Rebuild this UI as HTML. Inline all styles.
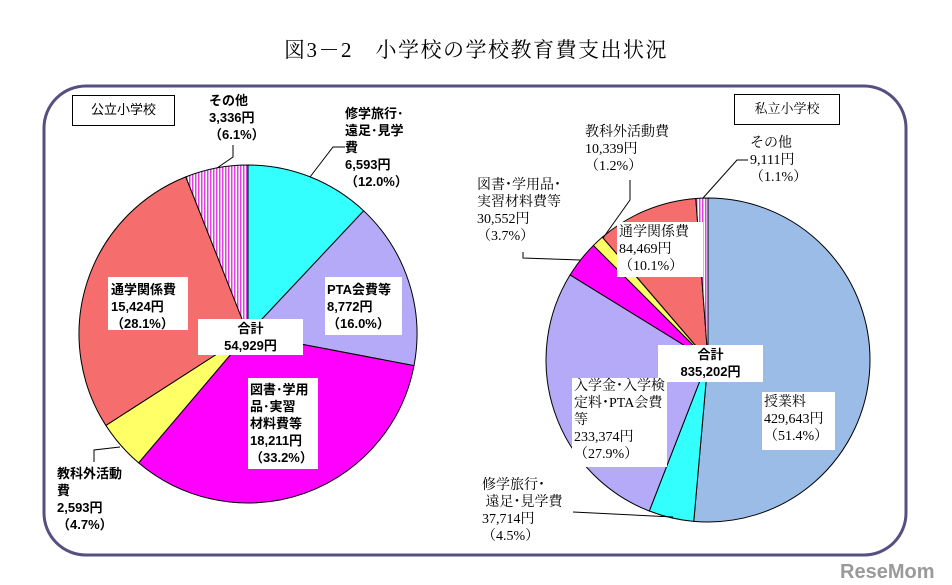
<!DOCTYPE html>
<html><head><meta charset="utf-8"><style>
body{margin:0;width:952px;height:585px;background:#fff;overflow:hidden;position:relative;font-family:"Liberation Sans","Noto Sans CJK JP",sans-serif;}
.t{position:absolute;font-size:13px;line-height:17px;color:#000;white-space:nowrap}
.g{font-weight:bold}
.s{font-family:"Liberation Serif","Noto Serif CJK SC",serif;font-size:14px}
.b{position:absolute;background:#fff}
.bx{position:absolute;border:1px solid #000;background:#fff;font-size:13px;text-align:center;line-height:28px}
</style></head><body>
<svg id="sv" width="952" height="585" style="position:absolute;left:0;top:0">
<defs><pattern id="st" width="3" height="4" patternUnits="userSpaceOnUse"><rect width="3" height="4" fill="#fff"/><rect width="1.5" height="4" fill="#e040e0"/></pattern></defs>
<rect x="44" y="86" width="862" height="469" rx="42" ry="42" fill="none" stroke="#55507f" stroke-width="3"/>
<g id="pies"></g>
<g stroke="#000" stroke-width="1" fill="none">
<polyline points="233,145 233,157 217,168"/>
<polyline points="345,147 333,147 310,177"/>
<polyline points="94,462 94,450 120,447"/>
<polyline points="630,180 630,200 603,238"/>
<polyline points="748,160 737,160 703,198"/>
<polyline points="523,252 523,258 580,260"/>
<polyline points="573,512 673,517"/>
</g>
</svg>
<div class="t" style="left:0;width:952px;top:37px;text-align:center;font-size:21px;line-height:26px;letter-spacing:1.5px;font-family:'Liberation Serif','Noto Serif CJK SC',serif">図3－2　小学校の学校教育費支出状況</div>
<div class="bx" style="left:72px;top:95px;width:101px;height:29px">公立小学校</div>
<div class="bx" style="left:734px;top:94px;width:104px;height:29px;font-family:'Liberation Serif','Noto Serif CJK SC',serif">私立小学校</div>

<div class="t g" style="left:209px;top:92px">その他<br>3,336円<br>（6.1%）</div>
<div class="t g" style="left:345px;top:105px">修学旅行･<br>遠足･見学<br>費<br>6,593円<br>（12.0%）</div>
<div class="b" style="left:325px;top:277px;width:77px;height:58px"></div>
<div class="t g" style="left:327px;top:281px">PTA会費等<br>8,772円<br>（16.0%）</div>
<div class="b" style="left:108px;top:277px;width:80px;height:53px"></div>
<div class="t g" style="left:111px;top:281px">通学関係費<br>15,424円<br>（28.1%）</div>
<div class="b" style="left:198px;top:319px;width:105px;height:36px"></div>
<div class="t g" style="left:198px;top:320px;width:105px;text-align:center">合計<br>54,929円</div>
<div class="b" style="left:248px;top:378px;width:70px;height:91px"></div>
<div class="t g" style="left:250px;top:381px">図書･学用<br>品･実習<br>材料費等<br>18,211円<br>（33.2%）</div>
<div class="t g" style="left:57px;top:465px">教科外活動<br>費<br>2,593円<br>（4.7%）</div>

<div class="t s" style="left:585px;top:124px">教科外活動費<br>10,339円<br>（1.2%）</div>
<div class="t s" style="left:750px;top:135px">その他<br>9,111円<br>（1.1%）</div>
<div class="t s" style="left:477px;top:177px">図書･学用品･<br>実習材料費等<br>30,552円<br>（3.7%）</div>
<div class="b" style="left:617px;top:222px;width:86px;height:55px"></div>
<div class="t s" style="left:619px;top:224px">通学関係費<br>84,469円<br>（10.1%）</div>
<div class="b" style="left:658px;top:345px;width:105px;height:37px"></div>
<div class="t g" style="left:658px;top:346px;width:105px;text-align:center">合計<br>835,202円</div>
<div class="b" style="left:572px;top:378px;width:95px;height:89px"></div>
<div class="t s" style="left:574px;top:378px">入学金･入学検<br>定料･PTA会費<br>等<br>233,374円<br>（27.9%）</div>
<div class="b" style="left:762px;top:392px;width:73px;height:58px"></div>
<div class="t s" style="left:764px;top:394px">授業料<br>429,643円<br>（51.4%）</div>
<div class="t s" style="left:482px;top:477px">修学旅行･<br>&nbsp;遠足･見学費<br>37,714円<br>（4.5%）</div>
<div class="t g" style="left:840px;top:560px;font-size:20px;line-height:24px;color:#9a9a9a">ReseMom</div>
<script>
function pie(cx,cy,r,data){var a=0,s='';data.forEach(function(d){var a1=a+d[0]/100*2*Math.PI;
var x0=cx+r*Math.sin(a),y0=cy-r*Math.cos(a),x1=cx+r*Math.sin(a1),y1=cy-r*Math.cos(a1);
s+='<path d="M'+cx+','+cy+'L'+x0+','+y0+'A'+r+','+r+' 0 '+(a1-a>Math.PI?1:0)+' 1 '+x1+','+y1+'Z" fill="'+d[1]+'" stroke="#000" stroke-width="1"/>';a=a1;});return s;}
document.getElementById('pies').innerHTML=
pie(248,334,169,[[12.0,'#33ffff'],[16.0,'#b4aaf8'],[33.2,'#ff00ff'],[4.7,'#ffff66'],[28.1,'#f56d6d'],[6.0,'url(#st)']])+
pie(708,360,162,[[51.4,'#9cbce8'],[4.5,'#33ffff'],[27.9,'#b4aaf8'],[3.7,'#ff00ff'],[1.2,'#ffff66'],[10.1,'#f56d6d'],[1.2,'url(#st)']]);
</script>
</body></html>
